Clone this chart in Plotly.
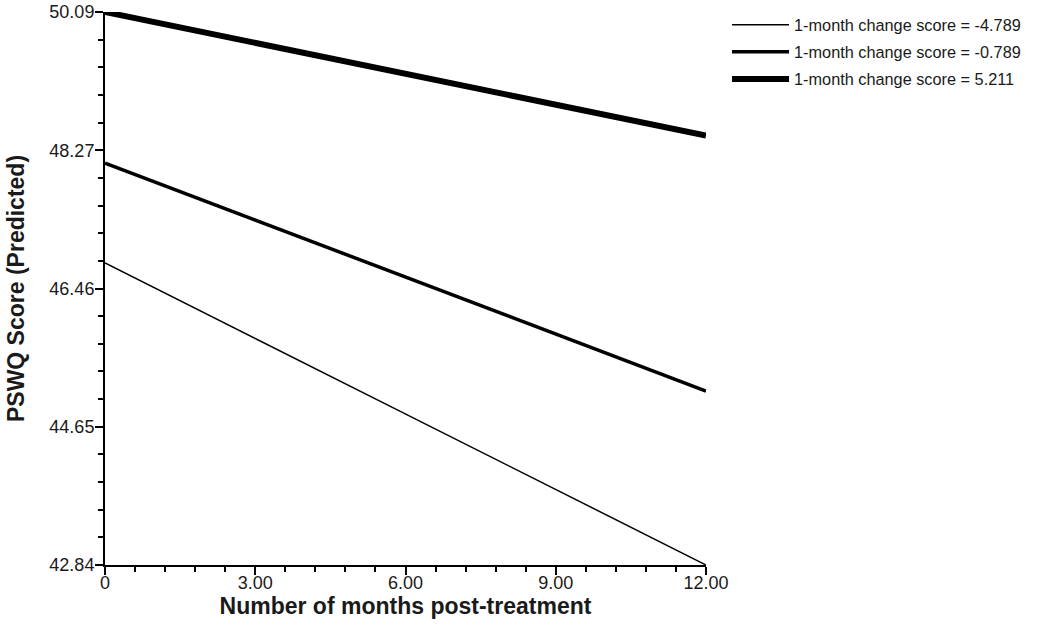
import plotly.graph_objects as go

months = [0, 12]
series_names = [
    "1-month change score = -4.789",
    "1-month change score = -0.789",
    "1-month change score = 5.211",
]
thin_vals = [46.80, 42.84]
medium_vals = [48.11, 45.12]
thick_vals = [50.09, 48.47]
series_vals = [thin_vals, medium_vals, thick_vals]
line_widths = [1.5, 3.5, 6]

y_tick_labels = ["42.84", "44.65", "46.46", "48.27", "50.09"]
x_tick_vals = [0, 3, 6, 9, 12]
x_tick_labels = ["0", "3.00", "6.00", "9.00", "12.00"]

y_min, y_max = 42.84, 50.09
step = (y_max - y_min) / 4
y_tick_vals = [y_min + i * step for i in range(5)]

fig = go.Figure()
for i, (name, vals, w) in enumerate(zip(series_names, series_vals, line_widths)):
    fig.add_trace(go.Scatter(x=months, y=vals, mode="lines", name=name,
                             legendgroup=f"g{i}",
                             line=dict(color="black", width=w)))

font_family = "Liberation Sans, Arial, sans-serif"
fig.update_layout(
    width=1050, height=630,
    margin=dict(l=105, r=344, t=12, b=65, autoexpand=False),
    paper_bgcolor="white", plot_bgcolor="white",
    font=dict(family=font_family, color="#1a1a1a", size=17),
    showlegend=True,
    legend=dict(x=1.035, y=1.008, xanchor="left", yanchor="top",
                font=dict(size=16.3, family=font_family),
                itemwidth=57, tracegroupgap=3,
                bgcolor="rgba(0,0,0,0)"),
)
fig.update_xaxes(
    range=[0, 12], tickmode="array", tickvals=x_tick_vals, ticktext=x_tick_labels,
    showgrid=False, zeroline=False, showline=True, linecolor="black", linewidth=2,
    ticks="outside", ticklen=8, tickwidth=1.5, tickcolor="black",
    minor=dict(dtick=0.6, tick0=0, ticks="outside", ticklen=5, tickwidth=1.5,
               tickcolor="black", showgrid=False),
    title=dict(text="<b>Number of months post-treatment</b>", font=dict(size=23), standoff=6),
    tickfont=dict(size=18), automargin=False, ticklabelstandoff=-8,
    ticklabeloverflow="allow",
)
fig.update_yaxes(
    range=[y_min, y_max], tickmode="array", tickvals=y_tick_vals, ticktext=y_tick_labels,
    showgrid=False, zeroline=False, showline=True, linecolor="black", linewidth=2,
    ticks="outside", ticklen=8, tickwidth=1.5, tickcolor="black",
    minor=dict(dtick=step / 5, tick0=y_min, ticks="outside", ticklen=5, tickwidth=1.5,
               tickcolor="black", showgrid=False),
    title=dict(text="<b>PSWQ Score (Predicted)</b>", font=dict(size=23), standoff=18),
    tickfont=dict(size=18), automargin=False, ticklabelstandoff=-3,
    ticklabeloverflow="allow",
)

fig.write_html("out.html", config={"displayModeBar": False},
               post_script="document.body.style.margin='0px';")
